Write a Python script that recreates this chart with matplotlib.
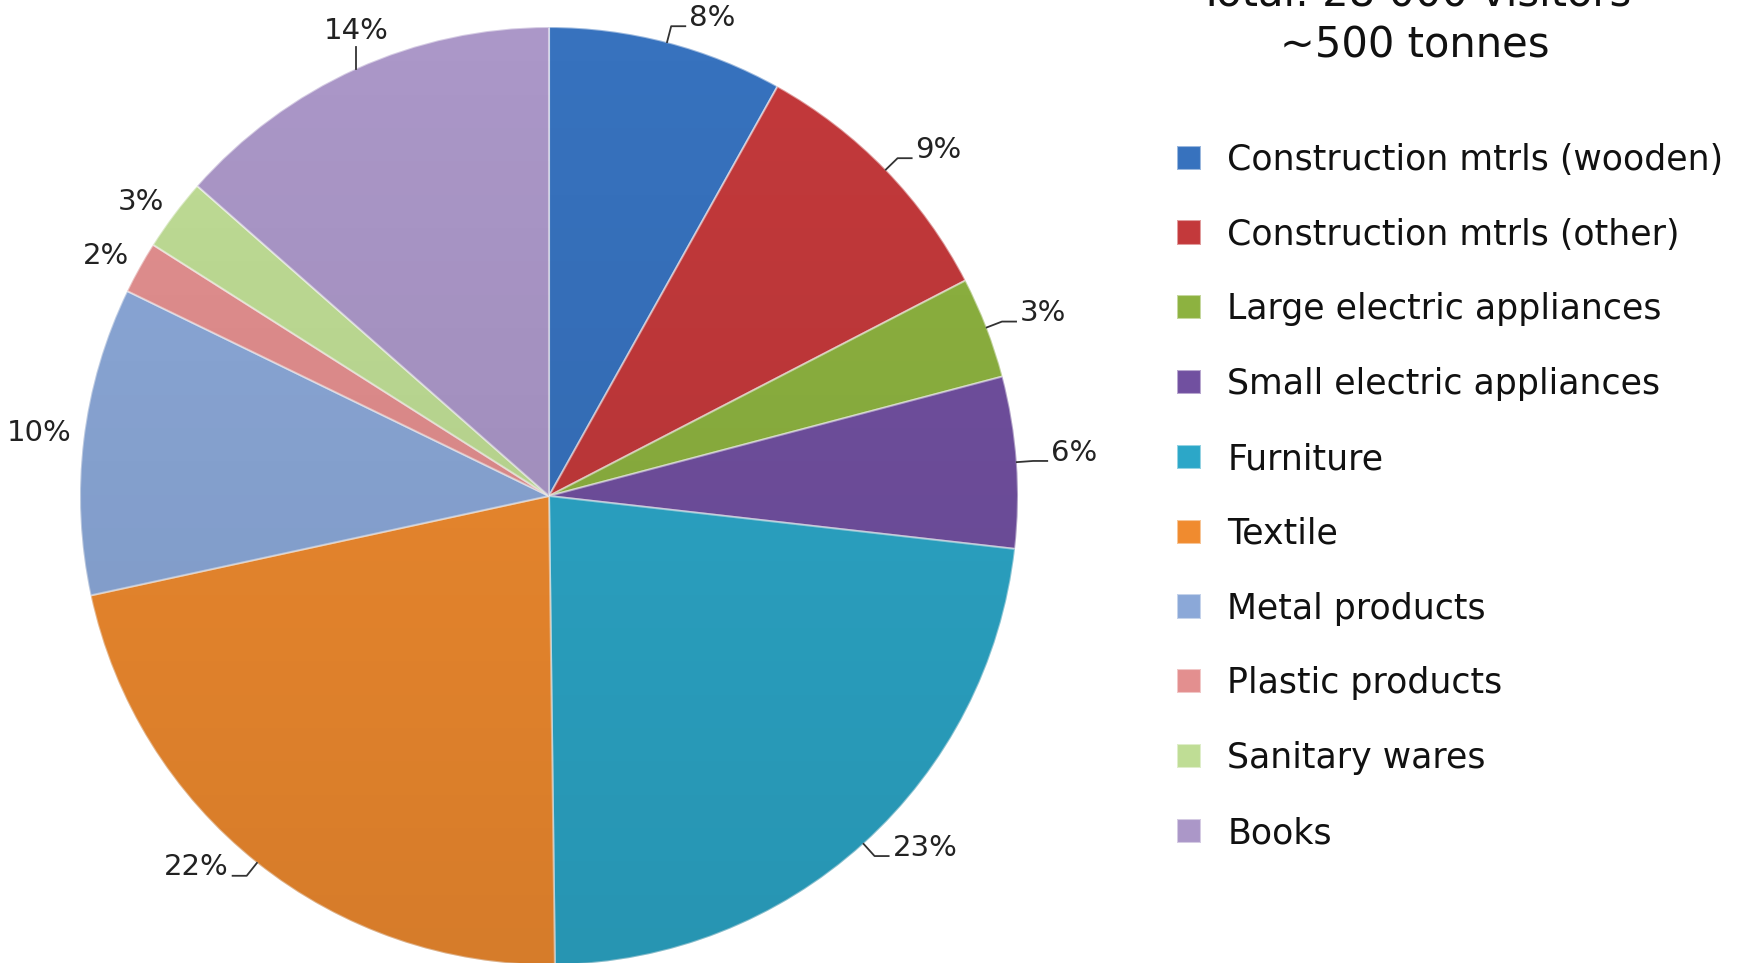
import numpy as np
import matplotlib
matplotlib.use("Agg")
import matplotlib.pyplot as plt
from matplotlib.patches import Circle

categories = ["Construction mtrls (wooden)", "Construction mtrls (other)",
              "Large electric appliances", "Small electric appliances",
              "Furniture", "Textile", "Metal products", "Plastic products",
              "Sanitary wares", "Books"]
values = [8.1, 9.3, 3.5, 5.9, 23.0, 21.8, 10.6, 1.8, 2.5, 13.5]
labels = ["8%", "9%", "3%", "6%", "23%", "22%", "10%", "2%", "3%", "14%"]
title_lines = ["Total: 28 000 visitors", "~500 tonnes"]

colors = ["#3772BE", "#C3393B", "#8DB240", "#7150A0", "#2CA7C8",
          "#F08B2F", "#8BA8D8", "#E38F8F", "#BFDD95", "#AB97C8"]
# label leader style per slice: 'elbow', 'vertical' or 'none'
leader = ["elbow", "elbow", "elbow", "elbow", "elbow", "elbow",
          "none", "none", "none", "vertical"]

W, H = 1740, 963
fig = plt.figure(figsize=(W / 100, H / 100), dpi=100)
cx, cy, R = 549, 496, 469
ax = fig.add_axes([(cx - R) / W, (H - cy - R) / H, 2 * R / W, 2 * R / H])
ax.axis("off")

wedges, _ = ax.pie(values, colors=colors, startangle=90, counterclock=False,
                   radius=1.0, center=(0, 0),
                   wedgeprops=dict(edgecolor=(1, 1, 1, 0.5), linewidth=1.5))

# subtle shading overlay (darker toward the bottom)
circ = Circle((0, 0), 1.0, transform=ax.transData)
shade = np.zeros((256, 1, 4))
shade[..., 3] = np.linspace(0.0, 0.11, 256).reshape(-1, 1)
im = ax.imshow(shade, extent=(-1, 1, -1, 1), origin="upper", zorder=3,
               aspect="auto", interpolation="bilinear")
im.set_clip_path(circ)
ax.set_xlim(-1, 1)
ax.set_ylim(-1, 1)

lab_kw = dict(fontsize=21, color="#222222", clip_on=False, zorder=5)
for w, lab, ld in zip(wedges, labels, leader):
    th = np.deg2rad((w.theta1 + w.theta2) / 2)
    c, s = np.cos(th), np.sin(th)
    side = 1 if c >= 0 else -1
    if ld == "elbow":
        p0 = (c, s)
        p1 = (c * 1.035, s * 1.035)
        p2 = (p1[0] + side * 0.03, p1[1])
        ax.plot([p0[0], p1[0], p2[0]], [p0[1], p1[1], p2[1]], color="#333333",
                lw=1.3, clip_on=False, zorder=4)
        ax.text(p2[0] + side * 0.008, p2[1] + 0.018, lab,
                ha="left" if side > 0 else "right", va="center", **lab_kw)
    elif ld == "vertical":
        p0 = (c, s)
        p1 = (c, s + 0.045)
        ax.plot([p0[0], p1[0]], [p0[1], p1[1]], color="#333333",
                lw=1.3, clip_on=False, zorder=4)
        ax.text(p1[0], p1[1] + 0.005, lab, ha="center", va="bottom", **lab_kw)
    else:
        ax.text(c * 1.025, s * 1.025 + 0.012, lab,
                ha="left" if side > 0 else "right", va="center", **lab_kw)

fig.text(1415 / W, 1 - (-6) / H, title_lines[0], fontsize=30, ha="center",
         va="center", color="#111111")
fig.text(1415 / W, 1 - 45 / H, title_lines[1], fontsize=30, ha="center",
         va="center", color="#111111")

leg = fig.legend(wedges, categories, loc="upper left",
                 bbox_to_anchor=(1163 / W, 1 - 129 / H), frameon=False,
                 fontsize=25, handlelength=0.7, handleheight=0.7,
                 handletextpad=0.75, labelspacing=1.175, borderaxespad=0)
for t in leg.get_texts():
    t.set_color("#111111")

fig.savefig("out.png", dpi=100)
